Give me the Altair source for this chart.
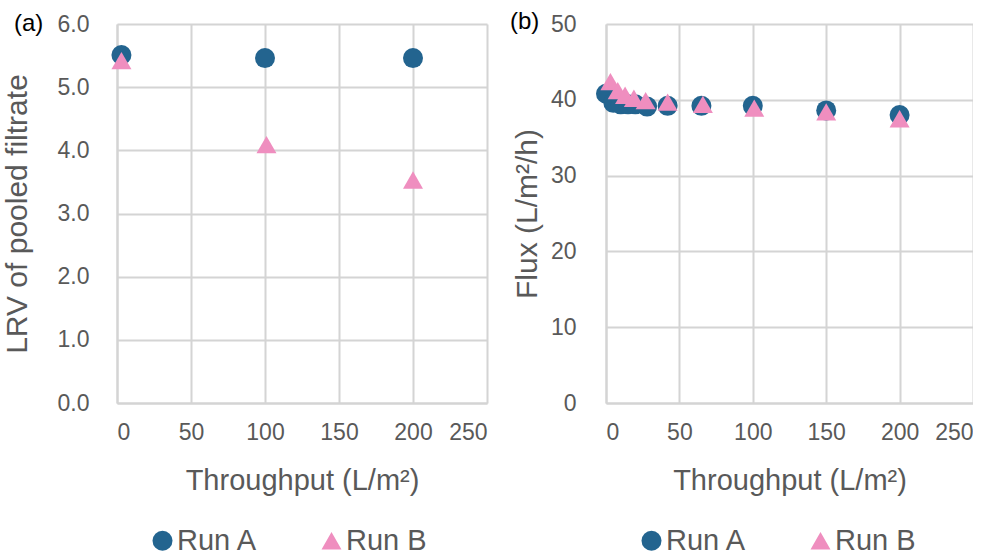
import altair as alt
import pandas as pd

runs = ["Run A", "Run B"]
run_colors = ["#23648F", "#EF8EBF"]
run_shapes = ["circle", "triangle-up"]

# Panel (a): LRV of pooled filtrate
a_x_run_a = [3, 100, 200]
a_y_run_a = [5.51, 5.46, 5.46]
a_x_run_b = [3, 101, 200]
a_y_run_b = [5.42, 4.09, 3.53]

# Panel (b): Flux
b_x_run_a = [0, 5, 10, 15, 20, 28, 42, 65, 100, 150, 200]
b_y_run_a = [40.8, 39.6, 39.4, 39.4, 39.4, 39.1, 39.2, 39.2, 39.2, 38.6, 38.0]
b_x_run_b = [3, 8, 13, 19, 27, 42, 66, 101, 150, 200]
b_y_run_b = [42.4, 41.2, 40.6, 40.2, 39.9, 39.7, 39.4, 38.9, 38.4, 37.5]

x_ticks = [0, 50, 100, 150, 200, 250]
a_ticks = [0, 1, 2, 3, 4, 5, 6]
b_ticks = [0, 10, 20, 30, 40, 50]

FONT = "Liberation Sans"
GRAY = "#595959"
GRID = "#D4D4D4"


def frame(xs_a, ys_a, xs_b, ys_b):
    rows = [{"x": x, "y": y, "run": runs[0]} for x, y in zip(xs_a, ys_a)]
    rows += [{"x": x, "y": y, "run": runs[1]} for x, y in zip(xs_b, ys_b)]
    return pd.DataFrame(rows)


def legend(height):
    return alt.Legend(
        orient="none", legendX=31, legendY=height + 123, direction="horizontal",
        title=None, symbolSize=400,
        labelFontSize=29, labelFont=FONT, labelColor=GRAY,
        columnPadding=59, labelOffset=0, padding=0, symbolOpacity=1,
    )


def panel(df, ytitle, ydomain, yticks, yfmt, tag, tag_x, tag_y, width, height,
          ylabel_pad, ytitle_pad):
    x_enc = alt.X(
        "x:Q",
        scale=alt.Scale(domain=[0, 250], nice=False, zero=False),
        axis=alt.Axis(values=x_ticks, title="Throughput (L/m²)", format="d"),
    )
    y_enc = alt.Y(
        "y:Q",
        scale=alt.Scale(domain=ydomain, nice=False),
        axis=alt.Axis(values=yticks, title=ytitle, format=yfmt, titlePadding=ytitle_pad,
                      labelPadding=ylabel_pad, titleFontSize=30),
    )
    pts = alt.Chart(df).mark_point(filled=True, opacity=1, size=400).encode(
        x=x_enc,
        y=y_enc,
        color=alt.Color("run:N", scale=alt.Scale(domain=runs, range=run_colors), legend=legend(height)),
        shape=alt.Shape("run:N", scale=alt.Scale(domain=runs, range=run_shapes), legend=legend(height)),
        order=alt.Order("run:N"),
    )
    lab = alt.Chart(pd.DataFrame({"t": [tag]})).mark_text(
        align="left", baseline="middle", font=FONT, fontSize=24, color="#000000"
    ).encode(text="t:N", x=alt.value(tag_x), y=alt.value(tag_y))
    return alt.layer(pts, lab).properties(width=width, height=height)


df_a = frame(a_x_run_a, a_y_run_a, a_x_run_b, a_y_run_b)
df_b = frame(b_x_run_a, b_y_run_a, b_x_run_b, b_y_run_b)

pa = panel(df_a, "LRV of pooled filtrate", [0, 6], a_ticks, ".1f", "(a)", -103, 0, 370, 379, 28, 25)
pb = panel(df_b, "Flux (L/m²/h)", [0, 50], b_ticks, "d", "(b)", -96, -2, 367, 379, 30, 8)

chart = (
    alt.hconcat(pa, pb, spacing=23)
    .resolve_scale(color="independent", shape="independent")
    .properties(padding={"left": 2, "top": 10, "right": 0, "bottom": 0})
    .configure_view(stroke=None)
    .configure_axis(
        labelFont=FONT, labelFontSize=23, labelColor=GRAY,
        titleFont=FONT, titleFontSize=29, titleColor=GRAY, titleFontWeight="normal",
        grid=True, gridColor=GRID, gridWidth=2,
        domain=True, domainColor=GRID, domainWidth=2,
        ticks=False,
    )
    .configure_axisX(labelPadding=18, titlePadding=22)
)

chart.save("out.html", embed_options={"renderer": "svg", "actions": False})
